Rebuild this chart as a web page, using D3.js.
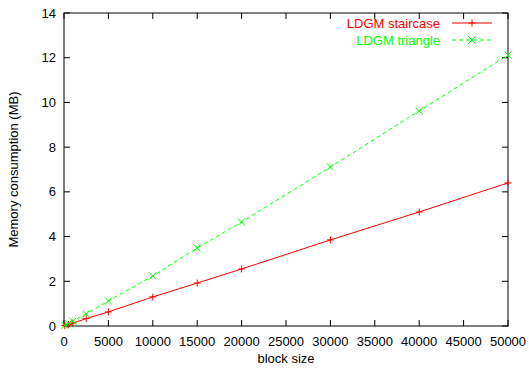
<!DOCTYPE html>
<html><head><meta charset="utf-8">
<script src="https://cdn.jsdelivr.net/npm/d3@7"></script>
<style>body{margin:0;background:#fff}svg{display:block;font-family:"Liberation Sans",Arial,sans-serif}</style>
</head><body><svg id="c" width="529" height="370"></svg>
<script>
const blockSizes = [100, 500, 1000, 2500, 5000, 10000, 15000, 20000, 30000, 40000, 50000];
const staircase = [0.02, 0.07, 0.13, 0.33, 0.63, 1.30, 1.92, 2.55, 3.85, 5.10, 6.40];
const triangle  = [0.03, 0.11, 0.22, 0.54, 1.12, 2.24, 3.49, 4.65, 7.11, 9.62, 12.12];
const xTicks = [0,5000,10000,15000,20000,25000,30000,35000,40000,45000,50000];
const yTicks = [0,2,4,6,8,10,12,14];
const seriesNames = ["LDGM staircase", "LDGM triangle"];
const seriesColors = ["#ff0000", "#00ff00"];

const svg = d3.select("#c");
const L=64, R=508, T=13, B=326;
const FS=13;
const x = d3.scaleLinear().domain([0,50000]).range([L,R]);
const y = d3.scaleLinear().domain([0,14]).range([B,T]);

const g = svg.append("g");
const tk=6;
yTicks.forEach(v=>{
  g.append("line").attr("x1",L).attr("x2",L+tk).attr("y1",y(v)).attr("y2",y(v)).attr("stroke","#000");
  g.append("line").attr("x1",R).attr("x2",R-tk).attr("y1",y(v)).attr("y2",y(v)).attr("stroke","#000");
  g.append("text").attr("x",L-8).attr("y",y(v)).attr("dy","0.35em").attr("text-anchor","end").attr("font-size",FS).text(v);
});
xTicks.forEach(v=>{
  g.append("line").attr("x1",x(v)).attr("x2",x(v)).attr("y1",B).attr("y2",B-tk).attr("stroke","#000");
  g.append("line").attr("x1",x(v)).attr("x2",x(v)).attr("y1",T).attr("y2",T+tk).attr("stroke","#000");
  g.append("text").attr("x",x(v)).attr("y",B+15).attr("dy","0.35em").attr("text-anchor","middle").attr("font-size",FS).text(v);
});
g.append("rect").attr("x",L).attr("y",T).attr("width",R-L).attr("height",B-T).attr("fill","none").attr("stroke","#000");

g.append("text").attr("x",x(25000)).attr("y",358).attr("dy","0.35em").attr("text-anchor","middle").attr("font-size",FS).text("block size");
g.append("text").attr("transform","translate(18,"+((T+B)/2)+") rotate(-90)").attr("text-anchor","middle").attr("font-size",FS).text("Memory consumption (MB)");

const line = d3.line().x(d=>x(d[0])).y(d=>y(d[1]));
const data = [staircase, triangle];
const ms=3.5;
function plus(sel,cx,cy,c){
  sel.append("path").attr("d",`M${cx-ms},${cy}H${cx+ms}M${cx},${cy-ms}V${cy+ms}`).attr("stroke",c).attr("fill","none");
}
function cross(sel,cx,cy,c){
  sel.append("path").attr("d",`M${cx-ms},${cy-ms}L${cx+ms},${cy+ms}M${cx-ms},${cy+ms}L${cx+ms},${cy-ms}`).attr("stroke",c).attr("fill","none");
}
data.forEach((vals,i)=>{
  const pts = blockSizes.map((b,j)=>[b,vals[j]]);
  g.append("path").datum(pts).attr("d",line).attr("fill","none").attr("stroke",seriesColors[i])
    .attr("stroke-dasharray", i===1 ? "4,3" : null);
  pts.forEach(p=>{ (i===0?plus:cross)(g,x(p[0]),y(p[1]),seriesColors[i]); });
  const ly = 23 + i*17;
  g.append("text").attr("x",440).attr("y",ly).attr("dy","0.35em").attr("text-anchor","end").attr("font-size",FS).attr("fill",seriesColors[i]).text(seriesNames[i]);
  g.append("line").attr("x1",452).attr("x2",492).attr("y1",ly).attr("y2",ly).attr("stroke",seriesColors[i]).attr("stroke-dasharray", i===1 ? "4,3" : null);
  (i===0?plus:cross)(g,472,ly,seriesColors[i]);
});
</script></body></html>
